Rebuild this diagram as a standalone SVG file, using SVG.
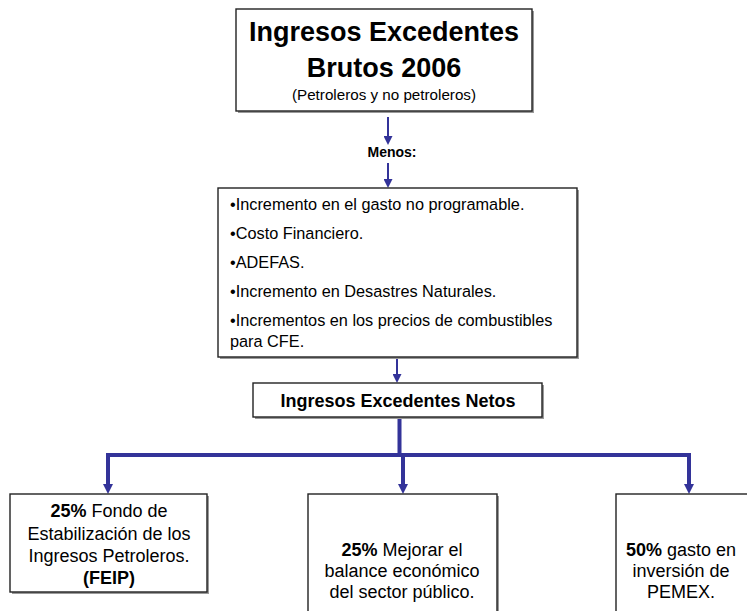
<svg xmlns="http://www.w3.org/2000/svg" width="747" height="611" viewBox="0 0 747 611">
<defs>
<style>
.box{fill:#ffffff;stroke:#222222;stroke-width:1.4}
.shadow{fill:#9a9a9a}
.t{font-family:"Liberation Sans",Arial,sans-serif;fill:#000000}
.c{text-anchor:middle}
.b{font-weight:bold}
.thin{stroke:#333399;stroke-width:2;fill:none}
.thick{stroke:#333399;stroke-width:4;fill:none}
</style>
<marker id="ahS" viewBox="0 0 10 10" refX="0" refY="5" markerUnits="userSpaceOnUse" markerWidth="9" markerHeight="9" orient="auto">
<path d="M0,0 L10,5 L0,10 z" fill="#333399"/>
</marker>
<marker id="ahL" viewBox="0 0 10 10" refX="0" refY="5" markerUnits="userSpaceOnUse" markerWidth="10" markerHeight="10" orient="auto">
<path d="M0,0 L10,5 L0,10 z" fill="#333399"/>
</marker>
</defs>
<rect width="747" height="611" fill="#ffffff"/>

<g id="connectors">
<line class="thin" x1="388" y1="117" x2="388" y2="136" marker-end="url(#ahS)"/>
<text class="t c b" x="392" y="157" font-size="14">Menos:</text>
<line class="thin" x1="388" y1="163" x2="388" y2="179" marker-end="url(#ahS)"/>
<line class="thin" x1="397" y1="358" x2="397" y2="374" marker-end="url(#ahS)"/>
<path class="thick" d="M399.5,418 V455 M106,455 H691"/>
<line class="thick" x1="108" y1="453" x2="108" y2="484" marker-end="url(#ahL)"/>
<line class="thick" x1="403" y1="453" x2="403" y2="484" marker-end="url(#ahL)"/>
<line class="thick" x1="689" y1="453" x2="689" y2="484" marker-end="url(#ahL)"/>
</g>

<g id="node-brutos">
<rect class="shadow" x="238" y="11" width="296" height="102"/>
<rect class="box" x="236" y="9" width="296" height="102"/>
<text class="t c b" x="384" y="41" font-size="27">Ingresos Excedentes</text>
<text class="t c b" x="384" y="77" font-size="27">Brutos 2006</text>
<text class="t c" x="384" y="100" font-size="15.2">(Petroleros y no petroleros)</text>
</g>

<g id="node-menos">
<rect class="shadow" x="220" y="190" width="359" height="169"/>
<rect class="box" x="218" y="188" width="359" height="169"/>
<g class="t" font-size="16.3">
<text x="230" y="210">•Incremento en el gasto no programable.</text>
<text x="230" y="239">•Costo Financiero.</text>
<text x="230" y="268">•ADEFAS.</text>
<text x="230" y="297">•Incremento en Desastres Naturales.</text>
<text x="230" y="326">•Incrementos en los precios de combustibles</text>
<text x="230" y="347">para CFE.</text>
</g>
</g>

<g id="node-netos">
<rect class="shadow" x="255" y="385" width="289" height="34"/>
<rect class="box" x="253" y="383" width="289" height="34"/>
<text class="t c b" x="398" y="407" font-size="18">Ingresos Excedentes Netos</text>
</g>

<g id="node-feip">
<rect class="shadow" x="12" y="496" width="197" height="98"/>
<rect class="box" x="10" y="494" width="197" height="98"/>
<g class="t c" font-size="18">
<text x="109" y="517"><tspan class="b">25%</tspan> Fondo de</text>
<text x="109" y="540">Estabilización de los</text>
<text x="109" y="562">Ingresos Petroleros.</text>
<text x="109" y="584" class="b">(FEIP)</text>
</g>
</g>

<g id="node-balance">
<rect class="shadow" x="310" y="496" width="189" height="130"/>
<rect class="box" x="308" y="494" width="189" height="130"/>
<g class="t c" font-size="18">
<text x="402" y="556"><tspan class="b">25%</tspan> Mejorar el</text>
<text x="402" y="577">balance económico</text>
<text x="402" y="598">del sector público.</text>
</g>
</g>

<g id="node-pemex">
<rect class="shadow" x="618" y="496" width="140" height="130"/>
<rect class="box" x="616" y="494" width="140" height="130"/>
<g class="t c" font-size="18">
<text x="681" y="556"><tspan class="b">50%</tspan> gasto en</text>
<text x="681" y="577">inversión de</text>
<text x="681" y="598">PEMEX.</text>
</g>
</g>
</svg>
